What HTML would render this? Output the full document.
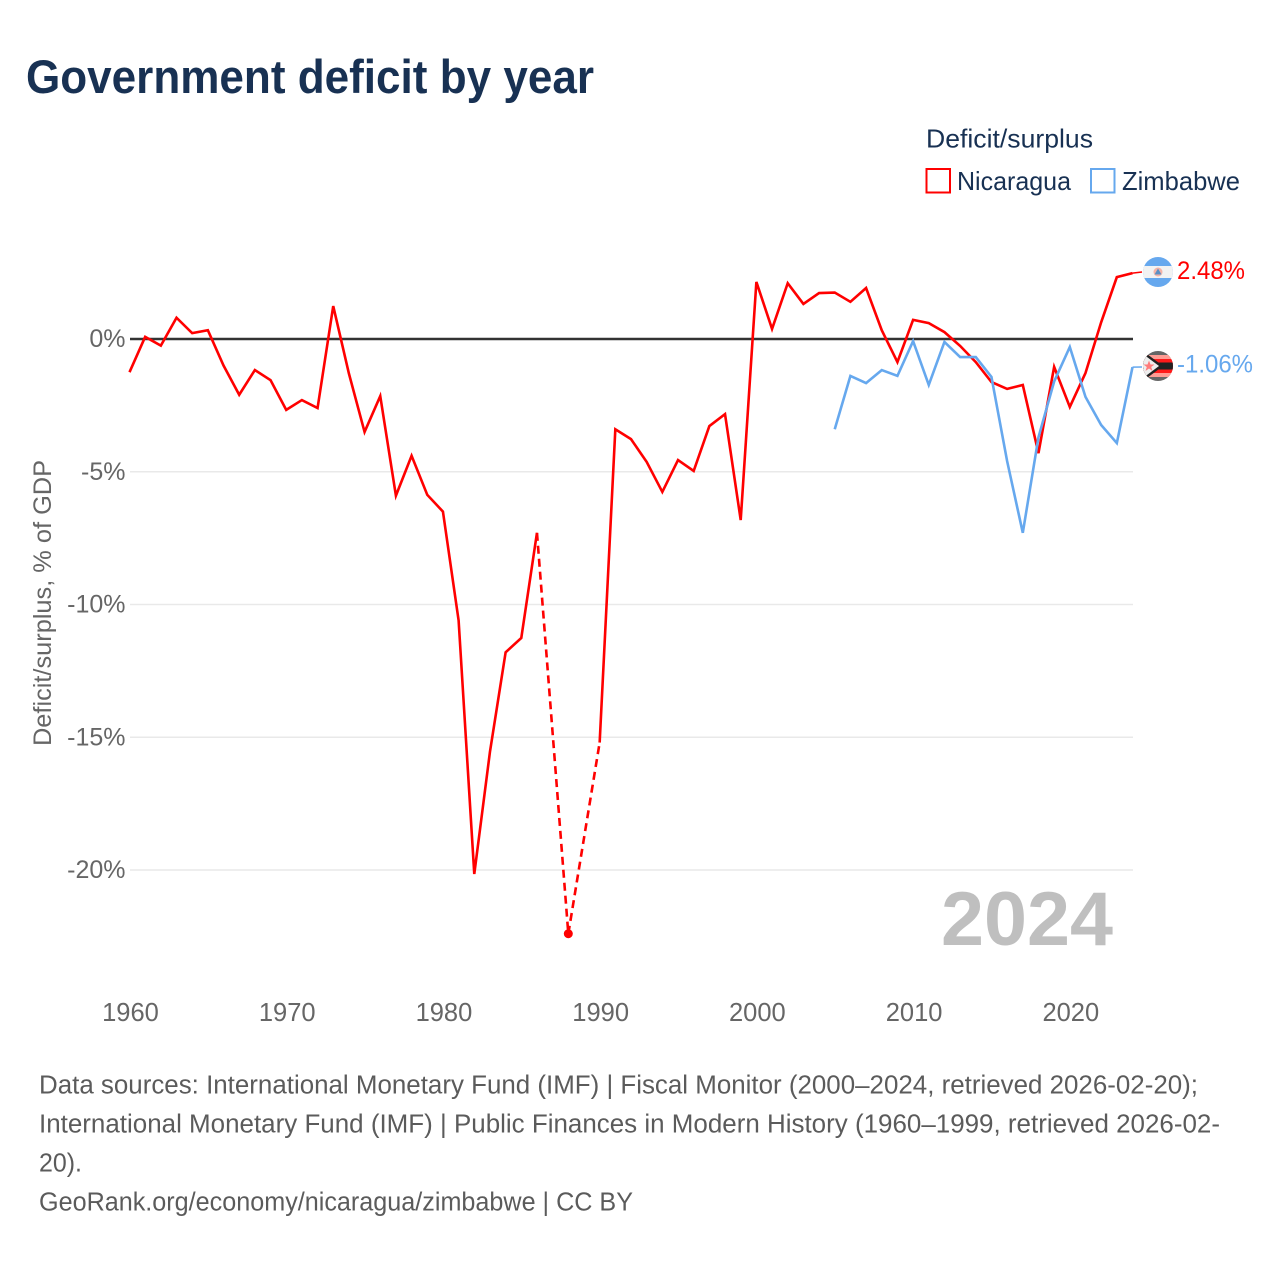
<!DOCTYPE html>
<html lang="en">
<head>
<meta charset="utf-8">
<title>Government deficit by year</title>
<style>
html,body{margin:0;padding:0;background:#fff;}
svg{display:block;font-family:"Liberation Sans",sans-serif;}
</style>
</head>
<body>
<svg id="chart" xmlns="http://www.w3.org/2000/svg" width="1280" height="1280" viewBox="0 0 1280 1280">
  <defs>
    <clipPath id="flag-clip-ni"><circle cx="1158" cy="272" r="15"/></clipPath>
    <clipPath id="flag-clip-zw"><circle cx="1158" cy="366" r="15"/></clipPath>
  </defs>
  <rect width="1280" height="1280" fill="#fff"/>
  <text x="26" y="93" font-size="47" font-weight="700" fill="#183153" textLength="568" lengthAdjust="spacingAndGlyphs">Government deficit by year</text>

  <text x="926" y="147.5" font-size="26" fill="#183153" textLength="167" lengthAdjust="spacingAndGlyphs">Deficit/surplus</text>
  <g>
    <rect x="926.5" y="169" width="23.5" height="23.5" fill="none" stroke="#ff0000" stroke-width="2"/>
    <text x="957" y="190" font-size="26" fill="#183153" textLength="114" lengthAdjust="spacingAndGlyphs">Nicaragua</text>
  </g>
  <g>
    <rect x="1091" y="169" width="23.5" height="23.5" fill="none" stroke="#66a8ee" stroke-width="2"/>
    <text x="1122" y="190" font-size="26" fill="#183153" textLength="118" lengthAdjust="spacingAndGlyphs">Zimbabwe</text>
  </g>

  <text transform="translate(51 746) rotate(-90)" font-size="25" fill="#666" textLength="286" lengthAdjust="spacingAndGlyphs">Deficit/surplus, % of GDP</text>

  <g id="grid"></g>
  <g id="y-ticks"></g>
  <g id="x-ticks"></g>

  <text x="941" y="945" font-size="76" font-weight="700" fill="#bfbfbf" textLength="172" lengthAdjust="spacingAndGlyphs">2024</text>

  <g id="series"></g>

  <g clip-path="url(#flag-clip-ni)">
    <rect x="1143" y="257" width="30" height="30" fill="#66a8ee"/>
    <rect x="1143" y="266" width="30" height="12" fill="#f2f2f2"/>
    <circle cx="1158" cy="272" r="4.5" fill="#f4b3a8"/>
    <path d="M1158 268.5L1161.5 274.5H1154.5Z" fill="#5b8fc4"/>
  </g>
  <g clip-path="url(#flag-clip-zw)">
    <rect x="1143" y="351" width="30" height="30" fill="#666"/>
    <rect x="1143" y="355" width="30" height="22" fill="#ff9c94"/>
    <rect x="1143" y="359" width="30" height="14" fill="#ff1a1a"/>
    <rect x="1143" y="362.5" width="30" height="7" fill="#222"/>
    <path d="M1143 351L1163 366L1143 381Z" fill="#222"/>
    <path d="M1143 354L1159 366L1143 378Z" fill="#eee"/>
    <path d="M1149 360.5L1150.5 364.5H1154.5L1151.2 367L1152.5 371L1149 368.5L1145.5 371L1146.8 367L1143.5 364.5H1147.5Z" fill="#ff7c7c"/>
  </g>
  <g id="end-labels"></g>

  <g font-size="25.5" fill="#5b5b5b">
    <text x="39" y="1093.5" textLength="1159" lengthAdjust="spacingAndGlyphs">Data sources: International Monetary Fund (IMF) | Fiscal Monitor (2000–2024, retrieved 2026-02-20);</text>
    <text x="39" y="1132.5" textLength="1181" lengthAdjust="spacingAndGlyphs">International Monetary Fund (IMF) | Public Finances in Modern History (1960–1999, retrieved 2026-02-</text>
    <text x="39" y="1171.5" textLength="43" lengthAdjust="spacingAndGlyphs">20).</text>
    <text x="39" y="1210.5" textLength="594" lengthAdjust="spacingAndGlyphs">GeoRank.org/economy/nicaragua/zimbabwe | CC BY</text>
  </g>
</svg>
<script>
var firstYear = 1960;
var nicaraguaValues = [
  -1.25, 0.08, -0.25, 0.8, 0.22, 0.33, -1.0, -2.1, -1.17, -1.55,
  -2.67, -2.3, -2.6, 1.24, -1.3, -3.5, -2.15, -5.9, -4.4, -5.87,
  -6.5, -10.6, -20.15, -15.55, -11.8, -11.26, -7.3, null, -22.4, null,
  -15.2, -3.4, -3.77, -4.63, -5.76, -4.56, -4.97, -3.28, -2.83, -6.82,
  2.15, 0.38, 2.1, 1.32, 1.73, 1.75, 1.4, 1.92, 0.33, -0.87,
  0.72, 0.6, 0.26, -0.26, -0.87, -1.62, -1.88, -1.73, -4.3, -1.05,
  -2.56, -1.28, 0.63, 2.33, 2.48
];
var zimbabweValues = [
  null, null, null, null, null, null, null, null, null, null,
  null, null, null, null, null, null, null, null, null, null,
  null, null, null, null, null, null, null, null, null, null,
  null, null, null, null, null, null, null, null, null, null,
  null, null, null, null, null, -3.4, -1.39, -1.66, -1.17, -1.39,
  -0.08, -1.73, -0.11, -0.68, -0.68, -1.43, -4.6, -7.3, -3.7, -1.6,
  -0.3, -2.18, -3.24, -3.92, -1.06
];
var yTickValues = [0, -5, -10, -15, -20];
var xTickYears = [1960, 1970, 1980, 1990, 2000, 2010, 2020];

var svgNS = 'http://www.w3.org/2000/svg';
function xScale(year) { return 129.5 + (year - 1960) * (1132.5 - 129.5) / 64; }
function yScale(value) { return 339 + (0 - value) * 26.55; }
function make(tag, parent) {
  var el = document.createElementNS(svgNS, tag);
  parent.appendChild(el);
  return el;
}

var gridLayer = document.getElementById('grid');
var yTickLayer = document.getElementById('y-ticks');
yTickValues.forEach(function (v) {
  var line = make('line', gridLayer);
  
  
  line.setAttribute('x1', 130);
  line.setAttribute('x2', 1133);
  line.setAttribute('y1', yScale(v));
  line.setAttribute('y2', yScale(v));
  line.setAttribute('stroke', v === 0 ? '#333' : '#e9e9e9');
  line.setAttribute('stroke-width', v === 0 ? 2.5 : 1.5);
  var label = make('text', yTickLayer);
  
  
  label.setAttribute('x', 125.5);
  label.setAttribute('y', yScale(v) + 8);
  label.setAttribute('text-anchor', 'end');
  label.setAttribute('font-size', 25);
  label.setAttribute('fill', '#666');
  label.textContent = v + '%';
});

var xTickLayer = document.getElementById('x-ticks');
xTickYears.forEach(function (y) {
  var label = make('text', xTickLayer);
  
  
  label.setAttribute('x', xScale(y) + 1);
  label.setAttribute('y', 1021);
  label.setAttribute('text-anchor', 'middle');
  label.setAttribute('font-size', 25.5);
  label.setAttribute('fill', '#666');
  label.textContent = y;
});

var seriesLayer = document.getElementById('series');
var endLayer = document.getElementById('end-labels');

function drawSeries(values, color, seriesName, labelY, flagY) {
  var solid = '';
  var lastIndex = -1;
  values.forEach(function (v, i) {
    if (v === null) { return; }
    var px = xScale(firstYear + i);
    var py = yScale(v);
    if (lastIndex >= 0 && i - lastIndex > 1) {
      var dash = make('line', seriesLayer);
      
      
      dash.setAttribute('x1', xScale(firstYear + lastIndex));
      dash.setAttribute('y1', yScale(values[lastIndex]));
      dash.setAttribute('x2', px);
      dash.setAttribute('y2', py);
      dash.setAttribute('stroke', color);
      dash.setAttribute('stroke-width', 2.6);
      dash.setAttribute('stroke-dasharray', '8 5');
    }
    var continues = lastIndex === i - 1 && lastIndex >= 0;
    solid += (continues ? 'L' : 'M') + px + ' ' + py;
    var isolated = !continues && (i + 1 >= values.length || values[i + 1] === null) && lastIndex >= 0;
    if (isolated) {
      var dot = make('circle', seriesLayer);
      
      
      dot.setAttribute('cx', px);
      dot.setAttribute('cy', py);
      dot.setAttribute('r', 4.5);
      dot.setAttribute('fill', color);
    }
    lastIndex = i;
  });
  var path = make('path', seriesLayer);
  
  
  path.setAttribute('d', solid);
  path.setAttribute('fill', 'none');
  path.setAttribute('stroke', color);
  path.setAttribute('stroke-width', 2.6);
  path.setAttribute('stroke-linejoin', 'miter');

  var lastValue = values[values.length - 1];
  var connector = make('line', seriesLayer);
  
  
  connector.setAttribute('x1', xScale(firstYear + values.length - 1));
  connector.setAttribute('y1', yScale(lastValue));
  connector.setAttribute('x2', 1142);
  connector.setAttribute('y2', flagY);
  connector.setAttribute('stroke', color);
  connector.setAttribute('stroke-width', 1.5);

  var label = make('text', endLayer);
  
  
  label.setAttribute('x', 1177);
  label.setAttribute('y', labelY);
  label.setAttribute('font-size', 25);
  label.setAttribute('fill', color);
  label.setAttribute('lengthAdjust', 'spacingAndGlyphs');
  var text = lastValue.toFixed(2) + '%';
  label.setAttribute('textLength', text.length === 5 ? 68 : 76);
  label.textContent = text;
}

drawSeries(nicaraguaValues, '#ff0000', 'nicaragua', 279, 272);
drawSeries(zimbabweValues, '#66a8ee', 'zimbabwe', 372.5, 367);
</script>
</body>
</html>
